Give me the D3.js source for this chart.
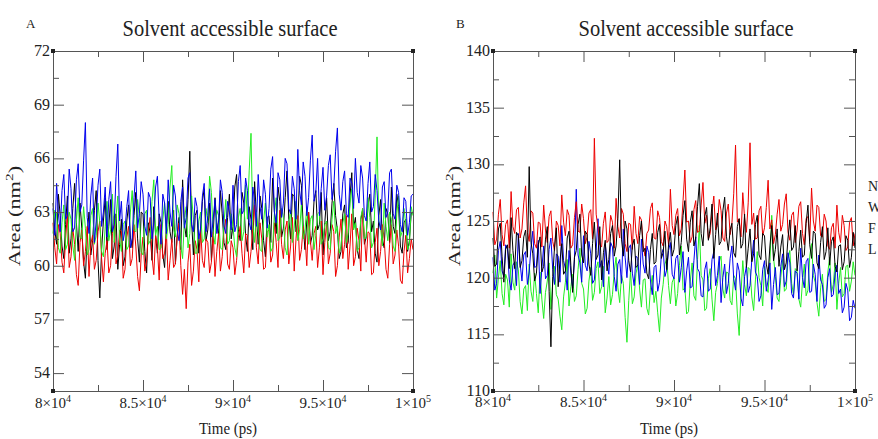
<!DOCTYPE html>
<meta charset="utf-8">
<script src="https://d3js.org/d3.v7.min.js"></script>
<style>
  body { margin: 0; background: #fff; }
  text { font-family: "Liberation Serif", "Times New Roman", serif; fill: #222; }
</style>
<div id="chart"></div>
<script>
// sample times (ps), one value every 100 ps
var times = d3.range(201).map(function(i) { return 80000 + 100 * i; });

// x tick labels, written as mantissa x 10^exp
var xTicks = [80000, 85000, 90000, 95000, 100000];
var xTickMant = ["8", "8.5", "9", "9.5", "1"];
var xTickExp = ["4", "4", "4", "4", "5"];

var yTicksA = [54, 57, 60, 63, 66, 69, 72];
var yTicksB = [110, 115, 120, 125, 130, 135, 140];

var legendNames = ["N", "W", "F", "L"];
var colors = ["#000000", "#ee0000", "#22ee22", "#0000ee"];

// panel A values (nm^2)
var blackA = [63.5, 62.0, 61.2, 64.0, 62.8, 61.1, 60.4, 62.3, 63.9, 60.7,
  61.5, 63.2, 64.6, 62.4, 60.8, 63.5, 62.1, 60.2, 59.3, 61.8,
  63.0, 60.6, 61.4, 63.1, 64.2, 60.3, 58.2, 60.9, 62.5, 63.8,
  60.9, 62.2, 63.7, 60.4, 61.1, 62.9, 59.8, 61.2, 62.6, 60.0,
  60.5, 62.5, 63.4, 61.6, 61.0, 62.8, 64.1, 61.5, 60.2, 63.0,
  62.9, 60.8, 59.6, 62.4, 61.8, 60.3, 63.3, 61.7, 60.7, 62.9,
  62.4, 60.6, 59.9, 62.1, 63.6, 61.9, 61.3, 63.1, 60.1, 61.7,
  62.7, 60.9, 64.8, 62.3, 61.6, 63.7, 66.4, 62.5, 60.6, 62.8,
  63.1, 60.7, 61.9, 63.6, 64.3, 61.4, 62.0, 63.5, 60.3, 61.8,
  63.8, 62.4, 61.7, 64.2, 62.9, 61.3, 60.9, 62.7, 64.0, 61.5,
  62.2, 64.4, 65.1, 62.0, 61.4, 64.1, 63.5, 61.7, 60.8, 63.3,
  62.6, 60.9, 64.7, 62.8, 61.2, 63.9, 63.2, 61.4, 60.5, 62.7,
  62.8, 61.3, 64.9, 63.0, 61.8, 64.4, 63.6, 61.6, 62.1, 63.8,
  65.3, 62.6, 61.5, 64.0, 63.9, 61.9, 62.4, 65.0, 64.5, 62.2,
  60.9, 62.5, 63.0, 61.2, 61.7, 63.6, 64.2, 62.0, 62.3, 64.1,
  60.6, 62.4, 63.8, 61.4, 61.9, 63.5, 64.6, 62.8, 62.0, 60.4,
  60.8, 62.9, 63.4, 61.0, 61.3, 63.9, 65.2, 62.1, 62.7, 60.9,
  60.4, 62.6, 63.1, 61.2, 61.6, 63.4, 64.0, 61.9, 62.5, 60.7,
  60.2, 62.8, 63.7, 61.5, 61.0, 63.2, 62.9, 61.3, 64.4, 62.2,
  61.8, 64.0, 63.3, 61.1, 60.7, 62.4, 62.6, 60.8, 61.4, 62.9,
  63.0];
var redA = [62.4, 61.0, 60.1, 62.3, 61.8, 60.2, 59.6, 61.5, 62.9, 59.9,
  60.5, 62.1, 61.2, 59.5, 58.9, 61.3, 62.0, 60.0, 60.8, 62.2,
  59.4, 61.2, 61.7, 59.8, 60.3, 61.9, 62.5, 60.4, 59.1, 60.7,
  61.4, 59.6, 60.0, 61.8, 62.8, 60.1, 60.6, 62.0, 61.9, 59.3,
  59.8, 61.6, 62.2, 60.0, 60.4, 62.3, 61.1, 59.4, 58.6, 60.6,
  61.6, 59.7, 60.2, 62.0, 62.7, 60.5, 59.5, 61.7, 61.0, 59.2,
  62.3, 60.4, 60.7, 61.9, 59.2, 60.3, 61.5, 59.9, 60.1, 61.6,
  62.4, 60.0, 58.4, 59.8, 57.6, 60.2, 61.2, 58.9, 59.7, 61.4,
  60.9, 59.1, 62.1, 60.3, 59.9, 61.5, 61.3, 59.6, 60.2, 61.9,
  59.4, 60.8, 61.8, 59.7, 60.5, 62.0, 62.6, 60.1, 59.8, 61.4,
  61.0, 59.5, 60.3, 61.6, 62.2, 60.7, 59.6, 61.8, 61.7, 59.9,
  60.8, 62.1, 63.4, 61.0, 60.1, 62.4, 61.5, 59.8, 59.9, 61.9,
  62.0, 60.2, 60.6, 62.4, 61.3, 59.9, 63.1, 61.2, 60.4, 62.0,
  62.5, 60.1, 61.1, 62.7, 59.7, 61.5, 62.8, 60.3, 60.9, 62.2,
  61.6, 60.0, 63.0, 61.4, 60.3, 61.8, 62.2, 59.9, 61.0, 62.5,
  59.5, 61.3, 62.4, 60.1, 60.7, 62.3, 61.9, 59.4, 60.0, 61.6,
  62.6, 60.4, 61.2, 62.8, 59.8, 61.1, 62.9, 60.0, 60.5, 62.1,
  61.4, 59.7, 63.2, 61.6, 60.2, 61.9, 61.8, 59.5, 59.6, 61.3,
  62.1, 60.0, 60.8, 62.3, 61.5, 59.8, 59.3, 61.2, 62.3, 60.1,
  60.6, 62.0, 61.1, 59.2, 59.0, 60.8, 61.7, 59.6, 60.4, 61.5,
  60.9];
var greenA = [61.8, 63.1, 62.9, 61.0, 60.7, 62.4, 63.4, 60.9, 61.2, 63.0,
  62.6, 61.1, 60.3, 62.5, 63.8, 61.6, 61.5, 63.3, 62.1, 60.6,
  60.9, 62.8, 63.2, 61.2, 61.7, 63.5, 62.4, 60.8, 60.5, 62.2,
  63.6, 61.4, 62.0, 64.0, 61.3, 62.7, 63.9, 61.5, 60.8, 62.3,
  62.5, 60.9, 61.1, 63.0, 64.2, 62.0, 61.9, 63.7, 62.7, 60.8,
  60.6, 62.9, 63.1, 61.2, 61.4, 63.6, 64.8, 61.7, 62.2, 60.9,
  61.0, 62.6, 63.5, 61.5, 62.3, 64.4, 65.6, 62.1, 61.6, 63.4,
  62.9, 61.1, 60.4, 62.6, 63.3, 61.0, 61.8, 63.9, 62.6, 60.7,
  60.7, 62.5, 63.0, 61.3, 61.5, 63.2, 62.4, 65.0, 64.1, 61.8,
  61.2, 63.1, 62.8, 61.0, 60.9, 62.4, 63.7, 61.2, 61.4, 62.9,
  62.2, 61.0, 60.5, 62.7, 63.2, 61.4, 61.9, 64.5, 62.6, 65.3,
  67.4, 62.3, 61.3, 63.0, 62.0, 60.9, 60.8, 62.5, 63.5, 61.6,
  62.3, 60.8, 61.0, 62.9, 63.8, 61.4, 61.6, 63.2, 62.7, 61.0,
  60.6, 62.4, 63.1, 61.3, 62.1, 63.6, 61.4, 62.0, 63.4, 61.5,
  62.0, 63.3, 61.2, 62.6, 62.8, 60.9, 61.7, 62.9, 63.0, 61.2,
  61.5, 62.3, 62.5, 61.0, 60.9, 62.6, 63.6, 61.8, 62.2, 60.7,
  61.1, 62.4, 62.9, 61.3, 61.8, 63.5, 64.3, 62.0, 62.4, 60.8,
  61.0, 62.7, 63.2, 61.5, 61.6, 63.8, 62.7, 61.0, 61.3, 63.9,
  67.2, 62.5, 62.1, 61.1, 63.5, 62.2, 61.4, 63.0, 62.6, 61.1,
  60.8, 62.9, 63.9, 61.6, 61.9, 63.2, 62.3, 60.9, 61.2, 63.3,
  62.8];
var blueA = [63.2, 61.7, 64.6, 62.9, 61.9, 64.2, 65.1, 62.6, 62.8, 65.4,
  64.3, 61.9, 62.1, 64.8, 65.7, 63.0, 63.4, 65.9, 68.0, 62.7,
  61.8, 63.9, 64.9, 61.3, 62.5, 64.5, 65.4, 62.2, 63.0, 64.4,
  61.6, 63.7, 64.7, 61.9, 62.3, 65.0, 66.8, 62.5, 63.6, 61.4,
  62.0, 63.3, 64.2, 61.0, 61.5, 63.8, 65.3, 62.1, 62.9, 64.7,
  64.0, 62.2, 61.7, 64.1, 63.8, 61.5, 62.4, 64.4, 65.0, 62.6,
  61.2, 64.0, 63.5, 61.8, 64.8, 63.0, 62.2, 64.5, 63.9, 62.0,
  61.4, 63.6, 64.4, 62.1, 62.7, 64.9, 65.2, 62.3, 61.9, 63.8,
  63.3, 61.5, 62.1, 63.9, 64.6, 61.9, 62.8, 64.3, 61.6, 62.6,
  63.7, 61.8, 62.5, 64.8, 64.1, 62.2, 61.8, 63.6, 63.0, 62.0,
  64.5, 61.9, 62.3, 64.7, 65.6, 62.9, 63.1, 64.9, 64.2, 62.4,
  62.0, 64.4, 63.6, 62.2, 65.1, 63.3, 62.6, 64.8, 64.0, 62.1,
  63.2, 65.4, 66.1, 63.0, 62.4, 65.2, 64.8, 62.7, 63.5, 66.0,
  65.7, 63.2, 62.9, 65.0, 64.3, 62.6, 66.5, 64.2, 63.4, 65.8,
  65.0, 62.8, 63.8, 65.9, 67.3, 63.6, 64.1, 66.0, 62.8, 64.3,
  65.5, 63.1, 63.9, 65.6, 66.2, 63.7, 64.4, 66.4, 67.7, 64.0,
  63.1, 64.7, 65.3, 62.9, 62.7, 64.9, 64.6, 63.2, 66.0, 64.1,
  63.5, 65.6, 64.9, 62.8, 62.5, 64.6, 65.8, 63.0, 63.3, 65.1,
  64.2, 62.5, 62.0, 64.4, 64.7, 62.7, 63.0, 65.2, 65.4, 62.9,
  62.6, 64.5, 64.1, 62.3, 61.9, 63.8, 63.6, 61.7, 62.4, 63.9,
  64.0];

// panel B values (nm^2)
var blackB = [123.5, 121.0, 121.2, 124.3, 124.8, 121.9, 119.6, 122.5, 122.9, 120.8,
  125.3, 122.4, 120.8, 124.0, 123.7, 120.9, 121.5, 123.6, 124.2, 121.8,
  129.8, 123.1, 122.1, 119.7, 120.4, 122.9, 123.6, 120.5, 121.0, 123.4,
  124.5, 118.8, 113.9, 120.1, 122.7, 124.4, 119.2, 121.5, 123.0, 120.3,
  120.6, 123.5, 124.1, 121.1, 118.7, 121.8, 122.4, 124.7, 125.6, 122.0,
  121.3, 124.1, 123.8, 121.2, 120.2, 123.0, 124.9, 121.6, 122.0, 124.5,
  119.8, 122.2, 123.3, 120.6, 121.6, 123.9, 124.6, 121.9, 122.8, 125.2,
  130.4, 123.4, 121.9, 125.0, 124.3, 121.5, 120.5, 122.8, 123.4, 120.9,
  121.1, 123.7, 125.0, 122.3, 122.6, 120.4, 119.9, 122.5, 123.9, 121.2,
  121.4, 124.0, 124.7, 121.7, 122.2, 124.1, 120.7, 122.9, 124.0, 121.9,
  122.5, 124.6, 125.4, 122.0, 123.1, 125.5, 126.8, 123.4, 122.3, 124.9,
  125.9, 122.8, 123.5, 126.3, 128.3, 123.9, 122.8, 125.4, 126.2, 123.3,
  124.4, 126.5, 121.7, 123.8, 125.7, 122.9, 123.2, 125.9, 127.1, 123.6,
  122.4, 124.2, 124.8, 122.2, 121.8, 124.5, 125.2, 122.6, 123.0, 125.6,
  120.9, 122.6, 124.3, 121.4, 122.1, 124.7, 125.5, 122.0, 121.6, 123.9,
  123.7, 121.2, 120.3, 122.8, 124.6, 121.5, 122.5, 124.3, 121.0, 122.7,
  123.8, 120.7, 121.3, 123.5, 125.1, 122.4, 122.7, 124.6, 120.6, 122.3,
  124.2, 121.8, 122.0, 124.8, 126.4, 122.9, 121.7, 124.1, 123.9, 121.3,
  120.8, 123.1, 124.5, 121.6, 122.3, 124.4, 121.1, 123.2, 123.6, 121.0,
  120.5, 122.8, 122.9, 120.7, 121.4, 123.7, 123.3, 120.9, 121.8, 124.0,
  122.6];
var redB = [125.8, 122.9, 123.4, 125.6, 126.9, 123.8, 122.8, 124.7, 125.1, 122.6,
  127.6, 124.5, 123.9, 126.0, 126.2, 123.5, 124.3, 126.6, 128.1, 124.0,
  123.2, 125.9, 125.7, 123.0, 122.6, 124.9, 124.8, 122.7, 126.4, 124.2,
  123.1, 125.4, 125.9, 123.2, 122.4, 125.0, 124.6, 122.8, 127.3, 124.9,
  123.7, 126.0, 125.5, 122.6, 122.9, 125.3, 126.7, 124.1, 124.0, 126.5,
  125.2, 123.0, 123.6, 125.7, 126.0, 123.4, 132.3, 125.6, 124.4, 122.9,
  122.7, 124.8, 125.8, 123.1, 123.3, 125.5, 124.9, 122.6, 127.0, 124.5,
  123.5, 126.1, 125.6, 123.0, 122.3, 124.8, 124.7, 122.5, 126.3, 123.9,
  123.0, 125.4, 125.1, 122.8, 121.9, 123.9, 124.2, 126.1, 126.6, 123.5,
  123.4, 125.9, 125.3, 123.2, 122.8, 125.0, 124.5, 122.9, 127.8, 124.6,
  123.8, 125.5, 126.1, 123.7, 124.3, 126.8, 129.5, 124.9, 125.0, 123.1,
  123.6, 126.0, 126.8, 124.0, 124.1, 126.4, 128.4, 124.8, 125.5, 123.4,
  123.9, 125.8, 127.2, 124.2, 124.6, 126.9, 125.9, 123.5, 123.2, 125.7,
  126.5, 123.8, 124.8, 127.4, 131.7, 124.9, 125.2, 123.6, 127.5, 125.3,
  124.0, 126.6, 131.9, 124.7, 125.7, 123.4, 123.5, 125.9, 126.3, 123.7,
  124.4, 126.2, 128.6, 124.3, 125.1, 123.0, 123.8, 125.6, 126.9, 124.1,
  124.7, 126.5, 127.4, 124.0, 123.3, 125.5, 125.8, 123.1, 124.2, 126.3,
  126.7, 123.9, 122.9, 125.2, 125.4, 123.3, 127.9, 125.0, 124.1, 126.4,
  126.2, 123.7, 123.6, 125.6, 125.0, 122.8, 122.5, 124.4, 124.8, 122.6,
  126.4, 124.0, 123.1, 125.5, 124.6, 122.4, 122.7, 124.9, 125.3, 122.8,
  123.9];
var greenB = [120.4, 122.0, 118.2, 120.0, 121.5, 118.6, 117.6, 120.3, 119.8, 117.4,
  122.1, 119.6, 118.9, 121.4, 120.7, 117.9, 116.8, 119.0, 119.3, 117.1,
  121.2, 118.8, 117.9, 120.4, 118.6, 116.9, 120.5, 118.1, 116.4, 118.7,
  119.7, 121.3, 117.2, 119.5, 121.0, 118.5, 118.1, 116.6, 115.4, 118.3,
  119.6, 121.6, 117.5, 119.2, 120.3, 117.9, 118.4, 120.7, 122.6, 119.5,
  119.0, 116.8, 117.3, 119.7, 120.9, 118.0, 118.7, 120.8, 121.4, 118.6,
  119.2, 121.0, 116.9, 118.2, 120.1, 117.6, 118.5, 120.6, 121.8, 119.1,
  117.8, 120.2, 119.5, 116.5, 114.3, 118.0, 120.6, 117.7, 118.3, 120.4,
  121.1, 119.0, 117.4, 119.8, 119.9, 117.3, 116.7, 119.1, 120.2, 117.8,
  118.8, 116.9, 115.2, 118.2, 119.4, 121.2, 121.7, 119.3, 117.7, 119.6,
  120.0, 117.5, 118.6, 121.1, 122.8, 118.9, 119.1, 116.8, 117.0, 119.7,
  121.3, 118.4, 118.0, 121.6, 124.6, 120.2, 119.8, 117.1, 117.3, 119.9,
  120.8, 118.1, 116.2, 118.7, 119.5, 121.4, 121.9, 119.0, 118.2, 120.5,
  120.4, 118.0, 117.6, 120.2, 119.9, 116.8, 114.9, 118.6, 121.5, 119.4,
  118.4, 120.9, 120.7, 118.3, 117.1, 119.8, 122.3, 120.0, 119.3, 117.5,
  121.0, 119.2, 118.7, 121.4, 125.5, 121.8, 120.1, 118.2, 117.9, 120.0,
  121.6, 118.8, 119.0, 121.7, 122.4, 119.5, 118.5, 120.8, 120.6, 118.1,
  117.4, 119.7, 121.2, 118.4, 118.9, 121.9, 123.0, 120.2, 119.6, 117.8,
  116.6, 119.1, 120.3, 117.9, 118.1, 120.5, 121.8, 118.7, 119.4, 121.3,
  117.2, 119.5, 120.9, 118.3, 118.6, 121.0, 121.1, 118.8, 119.7, 121.4,
  120.2];
var blueB = [121.8, 118.9, 119.5, 122.4, 123.2, 120.6, 120.1, 122.9, 122.6, 119.8,
  118.9, 121.1, 121.4, 119.3, 123.9, 121.2, 119.7, 122.0, 122.3, 119.4,
  120.5, 122.7, 124.1, 120.9, 121.0, 123.3, 118.6, 120.8, 122.8, 119.9,
  120.2, 122.5, 123.5, 120.7, 119.4, 122.1, 121.9, 119.6, 124.6, 121.5,
  120.8, 118.9, 122.4, 120.4, 119.1, 121.6, 127.8, 122.0, 121.3, 119.6,
  123.7, 121.1, 120.6, 123.2, 122.1, 119.5, 119.8, 122.4, 125.2, 120.9,
  121.5, 119.2, 123.0, 121.4, 120.3, 123.1, 122.7, 120.1, 118.8, 121.2,
  121.6, 119.5, 124.3, 121.8, 120.0, 122.6, 122.9, 120.4, 119.3, 121.9,
  121.7, 119.4, 123.4, 121.2, 120.4, 122.8, 122.2, 119.7, 118.5, 120.9,
  121.1, 118.8, 119.6, 122.0, 122.5, 120.1, 120.7, 122.4, 123.1, 120.3,
  119.9, 121.7, 122.0, 119.6, 120.9, 122.3, 118.7, 120.6, 121.8, 119.1,
  119.2, 121.5, 123.6, 120.8, 120.5, 118.4, 118.3, 120.7, 121.4, 118.8,
  119.0, 121.6, 122.3, 119.3, 120.2, 121.9, 117.8, 120.0, 121.2, 118.6,
  119.5, 121.7, 122.8, 119.9, 118.9, 121.3, 120.6, 118.2, 117.5, 120.1,
  121.0, 118.7, 119.3, 121.6, 123.3, 120.5, 120.1, 117.9, 118.4, 120.7,
  121.5, 118.8, 119.8, 121.3, 117.2, 119.4, 120.9, 118.5, 118.6, 121.0,
  122.1, 119.2, 119.7, 122.2, 121.3, 118.6, 118.2, 120.6, 120.4, 118.1,
  122.6, 120.0, 119.1, 121.4, 121.7, 118.7, 118.8, 121.2, 120.3, 117.9,
  122.0, 119.8, 119.4, 117.3, 117.6, 120.0, 120.8, 118.3, 118.5, 120.4,
  121.1, 118.6, 119.0, 116.9, 117.4, 119.5, 118.9, 116.2, 116.5, 118.0,
  117.3];

var svg = d3.select("#chart").append("svg")
  .attr("width", 878)
  .attr("height", 439);

function drawPanel(p) {
  var x = d3.scaleLinear().domain([80000, 100000]).range([p.left, p.right]);
  var y = d3.scaleLinear().domain(p.yDomain).range([p.bottom, p.top]);
  var g = svg.append("g");

  // the series, in drawing order
  var line = d3.line()
    .x(function(d, i) { return x(times[i]); })
    .y(function(d) { return y(d); });
  p.order.forEach(function(k) {
    g.append("path")
      .attr("d", line(p.series[k]))
      .attr("fill", "none")
      .attr("stroke", colors[k])
      .attr("stroke-width", 1);
  });

  // frame with inward ticks on every side
  var xMinor = xTicks.slice(0, -1).map(function(t) { return t + 2500; });
  var yStep = p.yTicks[1] - p.yTicks[0];
  var yMinor = p.yTicks.slice(0, -1).map(function(t) { return t + yStep / 2; });
  var sides = [
    [d3.axisBottom, x, "translate(0," + p.bottom + ")", xTicks, xMinor],
    [d3.axisTop, x, "translate(0," + p.top + ")", xTicks, xMinor],
    [d3.axisLeft, y, "translate(" + p.left + ",0)", p.yTicks, yMinor],
    [d3.axisRight, y, "translate(" + p.right + ",0)", p.yTicks, yMinor]
  ];
  sides.forEach(function(s) {
    g.append("g").attr("transform", s[2])
      .call(s[0](s[1]).tickValues(s[3]).tickSize(-11).tickSizeOuter(0).tickFormat(""));
    var minor = g.append("g").attr("transform", s[2])
      .call(s[0](s[1]).tickValues(s[4]).tickSize(-6).tickSizeOuter(0).tickFormat(""));
    minor.select(".domain").remove();
    g.selectAll(".domain, .tick line").attr("stroke", "#555");
  });

  // little corner squares
  [[p.left, p.top], [p.right, p.top], [p.left, p.bottom], [p.right, p.bottom]].forEach(function(c) {
    g.append("rect").attr("x", c[0] - 2).attr("y", c[1] - 2)
      .attr("width", 4).attr("height", 4).attr("fill", "#222");
  });

  // y tick labels
  g.selectAll(".ylab").data(p.yTicks).enter().append("text")
    .attr("x", p.left - 3)
    .attr("y", function(d) { return y(d) + 5; })
    .attr("text-anchor", "end")
    .style("font-size", "16px")
    .text(function(d) { return d; });

  // x tick labels, 8x10^4 style
  xTicks.forEach(function(t, i) {
    var tx = g.append("text")
      .attr("x", x(t))
      .attr("y", p.bottom + p.xLabDy)
      .attr("text-anchor", "middle")
      .style("font-size", "15px");
    tx.append("tspan").text(xTickMant[i] + "\u00d710");
    tx.append("tspan").attr("dy", -6).style("font-size", "10px").text(xTickExp[i]);
  });

  // axis titles
  g.append("text")
    .attr("x", (p.left + p.right) / 2 - 5)
    .attr("y", 434)
    .attr("text-anchor", "middle")
    .attr("textLength", 58)
    .attr("lengthAdjust", "spacingAndGlyphs")
    .style("font-size", "17px")
    .text("Time (ps)");

  // y title is tall and thin in the original, so stretch it along its length
  var yl = g.append("text")
    .attr("transform", "translate(" + p.yLabX + "," + ((p.top + p.bottom) / 2 - 5) + ") rotate(-90) scale(1.4,1)")
    .attr("text-anchor", "middle")
    .style("font-size", "16px");
  yl.append("tspan").text("Area (nm");
  yl.append("tspan").attr("dy", -7).style("font-size", "11px").text("2");
  yl.append("tspan").attr("dy", 7).text(")");

  g.append("text")
    .attr("x", p.titleX)
    .attr("y", 36)
    .attr("text-anchor", "middle")
    .attr("textLength", 215)
    .attr("lengthAdjust", "spacingAndGlyphs")
    .style("font-size", "24px")
    .text("Solvent accessible surface");

  g.append("text")
    .attr("x", p.letterX)
    .attr("y", 28)
    .style("font-size", "13px")
    .text(p.letter);

  return g;
}

drawPanel({
  left: 53, right: 413, top: 51, bottom: 391,
  yDomain: [53, 72], yTicks: yTicksA,
  series: [blackA, redA, greenA, blueA], order: [0, 1, 2, 3],
  letter: "A", letterX: 26, yLabX: 20, xLabDy: 17, titleX: 230
});

drawPanel({
  left: 493, right: 855, top: 51, bottom: 391,
  yDomain: [110, 140], yTicks: yTicksB,
  series: [blackB, redB, greenB, blueB], order: [2, 3, 1, 0],
  letter: "B", letterX: 456, yLabX: 460, xLabDy: 16, titleX: 686
});

// legend, cut by the right edge of the picture
svg.selectAll(".leg").data(legendNames).enter().append("text")
  .attr("x", 868)
  .attr("y", function(d, i) { return 191 + 21 * i; })
  .style("font-size", "14px")
  .text(function(d) { return d; });
</script>
